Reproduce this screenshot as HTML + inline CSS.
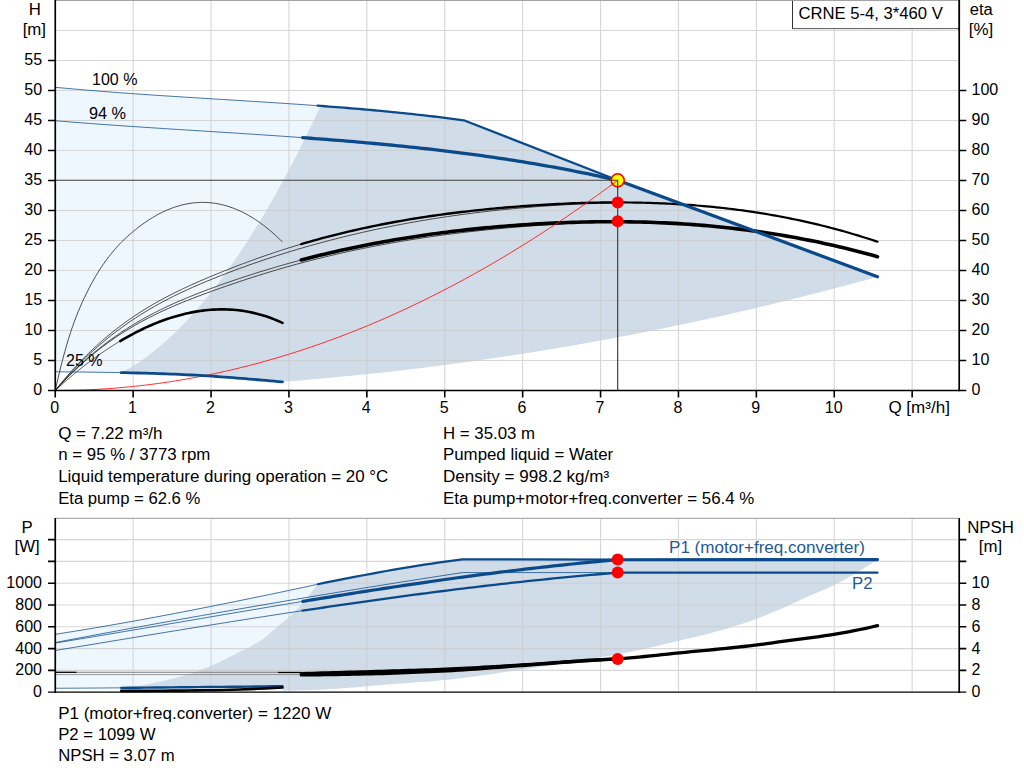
<!DOCTYPE html>
<html><head><meta charset="utf-8"><title>CRNE 5-4</title>
<style>html,body{margin:0;padding:0;background:#fff;}body{width:1024px;height:781px;overflow:hidden;position:relative;font-family:"Liberation Sans",sans-serif;}</style></head>
<body>
<svg width="1024" height="781" viewBox="0 0 1024 781" style="position:absolute;left:0;top:0">
<rect x="0" y="0" width="1024" height="781" fill="#fff"/>
<path d="M55.25 87.29 L60.67 87.80 L66.08 88.30 L71.50 88.79 L76.92 89.27 L82.33 89.73 L87.75 90.19 L93.17 90.64 L98.58 91.08 L104.00 91.51 L109.41 91.93 L114.83 92.34 L120.25 92.75 L125.66 93.14 L131.08 93.54 L136.50 93.92 L141.91 94.30 L147.33 94.67 L152.75 95.04 L158.16 95.40 L163.58 95.76 L169.00 96.11 L174.41 96.46 L179.83 96.81 L185.24 97.15 L190.66 97.49 L196.08 97.83 L201.49 98.17 L206.91 98.50 L212.33 98.84 L217.74 99.17 L223.16 99.51 L228.58 99.84 L233.99 100.17 L239.41 100.51 L244.83 100.85 L250.24 101.18 L255.66 101.53 L261.07 101.87 L266.49 102.22 L271.91 102.56 L277.32 102.92 L282.74 103.28 L288.16 103.64 L293.57 104.00 L298.99 104.38 L304.41 104.75 L309.82 105.14 L315.24 105.53 L320.66 105.93 L320.66 105.65 L317.28 112.86 L313.90 119.97 L310.52 127.00 L307.14 133.93 L303.75 140.77 L300.37 147.52 L296.99 154.17 L293.61 160.74 L290.23 167.21 L286.85 173.58 L283.47 179.87 L280.09 186.06 L276.71 192.16 L273.33 198.17 L269.95 204.08 L266.57 209.91 L263.19 215.64 L259.81 221.28 L256.43 226.82 L253.05 232.28 L249.67 237.64 L246.29 242.91 L242.91 248.08 L239.53 253.17 L236.15 258.16 L232.77 263.06 L229.39 267.87 L226.01 272.58 L222.63 277.20 L219.25 281.73 L215.87 286.17 L212.49 290.51 L209.11 294.77 L205.73 298.93 L202.35 302.99 L198.97 306.97 L195.59 310.85 L192.21 314.64 L188.83 318.34 L185.45 321.95 L182.07 325.46 L178.69 328.88 L175.31 332.21 L171.93 335.44 L168.55 338.59 L165.17 341.64 L161.79 344.60 L158.41 347.46 L155.03 350.24 L151.65 352.92 L148.27 355.51 L144.89 358.00 L141.51 360.41 L138.13 362.72 L134.75 364.94 L131.37 367.07 L127.99 369.10 L124.61 371.04 L121.23 372.89 L121.23 372.62 L113.90 372.49 L106.57 372.37 L99.24 372.26 L91.91 372.16 L84.58 372.08 L77.24 372.00 L69.91 371.92 L62.58 371.85 L55.25 371.78 Z" fill="#eef6fe"/>
<path d="M121.23 372.89 L124.61 371.04 L127.99 369.10 L131.37 367.07 L134.75 364.94 L138.13 362.72 L141.51 360.41 L144.89 358.00 L148.27 355.51 L151.65 352.92 L155.03 350.24 L158.41 347.46 L161.79 344.60 L165.17 341.64 L168.55 338.59 L171.93 335.44 L175.31 332.21 L178.69 328.88 L182.07 325.46 L185.45 321.95 L188.83 318.34 L192.21 314.64 L195.59 310.85 L198.97 306.97 L202.35 302.99 L205.73 298.93 L209.11 294.77 L212.49 290.51 L215.87 286.17 L219.25 281.73 L222.63 277.20 L226.01 272.58 L229.39 267.87 L232.77 263.06 L236.15 258.16 L239.53 253.17 L242.91 248.08 L246.29 242.91 L249.67 237.64 L253.05 232.28 L256.43 226.82 L259.81 221.28 L263.19 215.64 L266.57 209.91 L269.95 204.08 L273.33 198.17 L276.71 192.16 L280.09 186.06 L283.47 179.87 L286.85 173.58 L290.23 167.21 L293.61 160.74 L296.99 154.17 L300.37 147.52 L303.75 140.77 L307.14 133.93 L310.52 127.00 L313.90 119.97 L317.28 112.86 L320.66 105.65 L320.66 105.93 L325.59 106.29 L330.52 106.67 L335.46 107.05 L340.39 107.44 L345.33 107.83 L350.26 108.24 L355.20 108.65 L360.13 109.07 L365.07 109.50 L370.00 109.93 L374.94 110.38 L379.87 110.83 L384.80 111.30 L389.74 111.77 L394.67 112.25 L399.61 112.75 L404.54 113.26 L409.48 113.77 L414.41 114.30 L419.35 114.84 L424.28 115.39 L429.22 115.96 L434.15 116.53 L439.08 117.12 L444.02 117.73 L448.95 118.34 L453.89 118.97 L458.82 119.62 L463.76 120.28 L617.69 180.20 L877.48 276.74 L877.48 276.86 L869.95 278.94 L862.42 280.99 L854.89 283.02 L847.36 285.04 L839.83 287.03 L832.29 289.01 L824.76 290.97 L817.23 292.91 L809.70 294.83 L802.17 296.73 L794.64 298.61 L787.10 300.47 L779.57 302.32 L772.04 304.14 L764.51 305.95 L756.98 307.73 L749.45 309.50 L741.91 311.25 L734.38 312.98 L726.85 314.69 L719.32 316.38 L711.79 318.05 L704.26 319.70 L696.72 321.34 L689.19 322.95 L681.66 324.55 L674.13 326.12 L666.60 327.68 L659.07 329.22 L651.54 330.74 L644.00 332.24 L636.47 333.72 L628.94 335.18 L621.41 336.62 L613.88 338.05 L606.35 339.45 L598.81 340.84 L591.28 342.20 L583.75 343.55 L576.22 344.88 L568.69 346.19 L561.16 347.48 L553.62 348.75 L546.09 350.00 L538.56 351.24 L531.03 352.45 L523.50 353.65 L515.97 354.82 L508.43 355.98 L500.90 357.12 L493.37 358.24 L485.84 359.34 L478.31 360.42 L470.78 361.48 L463.24 362.52 L455.71 363.54 L448.18 364.55 L440.65 365.53 L433.12 366.50 L425.59 367.45 L418.05 368.38 L410.52 369.28 L402.99 370.17 L395.46 371.05 L387.93 371.90 L380.40 372.73 L372.86 373.54 L365.33 374.34 L357.80 375.11 L350.27 375.87 L342.74 376.61 L335.21 377.33 L327.67 378.03 L320.14 378.71 L312.61 379.37 L305.08 380.01 L297.55 380.63 L290.02 381.24 L282.48 381.82 L282.48 381.92 L276.92 381.43 L271.36 380.94 L265.80 380.45 L260.24 379.96 L254.68 379.49 L249.12 379.02 L243.56 378.56 L238.00 378.11 L232.44 377.67 L226.88 377.25 L221.32 376.84 L215.76 376.45 L210.20 376.08 L204.64 375.73 L199.08 375.40 L193.52 375.09 L187.96 374.80 L182.40 374.54 L176.84 374.29 L171.28 374.05 L165.71 373.84 L160.15 373.64 L154.59 373.46 L149.03 373.29 L143.47 373.13 L137.91 372.99 L132.35 372.85 L126.79 372.73 L121.23 372.62 Z" fill="#d0dce8"/>
<path d="M133.15 0.5V390 M211.05 0.5V390 M288.95 0.5V390 M366.85 0.5V390 M444.75 0.5V390 M522.65 0.5V390 M600.55 0.5V390 M678.45 0.5V390 M756.35 0.5V390 M834.25 0.5V390 M912.15 0.5V390 M56 360.50H958.3 M56 330.50H958.3 M56 300.50H958.3 M56 270.50H958.3 M56 240.50H958.3 M56 210.50H958.3 M56 180.50H958.3 M56 150.50H958.3 M56 120.50H958.3 M56 90.50H958.3 M56 60.50H958.3 M56 30.50H958.3" stroke="#cbcbcb" stroke-opacity="0.76" stroke-width="1.1" fill="none"/>
<path d="M56 0.4H958.3" stroke="#999" stroke-width="1"/>
<path d="M56 180.32H617.69" stroke="#444" stroke-width="1.1" fill="none"/>
<path d="M617.69 180.32V390" stroke="#333" stroke-width="1.1" fill="none"/>
<path d="M55.25 390.50 L57.32 387.90 L59.38 385.34 L61.45 382.82 L63.52 380.34 L65.59 377.91 L67.65 375.51 L69.72 373.14 L71.79 370.82 L73.86 368.53 L75.92 366.29 L77.99 364.07 L80.06 361.90 L82.12 359.76 L84.19 357.65 L86.26 355.58 L88.33 353.54 L90.39 351.54 L92.46 349.57 L94.53 347.63 L96.60 345.73 L98.66 343.86 L100.73 342.01 L102.80 340.20 L104.87 338.42 L106.93 336.67 L109.00 334.95 L111.07 333.26 L113.13 331.59 L115.20 329.96 L117.27 328.35 L119.34 326.77 L121.40 325.21 L123.47 323.69 L125.54 322.18 L127.61 320.70 L129.67 319.25 L131.74 317.82 L133.81 316.42 L135.87 315.03 L137.94 313.67 L140.01 312.34 L142.08 311.02 L144.14 309.73 L146.21 308.45 L148.28 307.20 L150.35 305.97 L152.41 304.75 L154.48 303.56 L156.55 302.38 L158.61 301.22 L160.68 300.08 L162.75 298.95 L164.82 297.85 L166.88 296.75 L168.95 295.68 L171.02 294.62 L173.09 293.57 L175.15 292.54 L177.22 291.52 L179.29 290.51 L181.36 289.52 L183.42 288.54 L185.49 287.57 L187.56 286.61 L189.62 285.66 L191.69 284.73 L193.76 283.80 L195.83 282.88 L197.89 281.97 L199.96 281.07 L202.03 280.18 L204.10 279.29 L206.16 278.41 L208.23 277.54 L210.30 276.67 L212.36 275.81 L214.43 274.96 L216.50 274.11 L218.57 273.26 L220.63 272.42 L222.70 271.59 L224.77 270.76 L226.84 269.94 L228.90 269.12 L230.97 268.31 L233.04 267.50 L235.10 266.70 L237.17 265.91 L239.24 265.12 L241.31 264.33 L243.37 263.55 L245.44 262.78 L247.51 262.01 L249.58 261.25 L251.64 260.50 L253.71 259.75 L255.78 259.00 L257.84 258.26 L259.91 257.53 L261.98 256.80 L264.05 256.08 L266.11 255.36 L268.18 254.65 L270.25 253.95 L272.32 253.25 L274.38 252.56 L276.45 251.87 L278.52 251.19 L280.59 250.52 L282.65 249.85 L284.72 249.19 L286.79 248.53 L288.85 247.88 L290.92 247.24 L292.99 246.60 L295.06 245.97 L297.12 245.34 L299.19 244.72 L301.26 244.10" stroke="#222" stroke-width="0.8" fill="none"/>
<path d="M55.25 390.50 L57.32 388.19 L59.38 385.91 L61.45 383.67 L63.52 381.46 L65.59 379.29 L67.65 377.15 L69.72 375.05 L71.79 372.98 L73.86 370.94 L75.92 368.94 L77.99 366.96 L80.06 365.02 L82.12 363.11 L84.19 361.23 L86.26 359.38 L88.33 357.56 L90.39 355.77 L92.46 354.01 L94.53 352.28 L96.60 350.58 L98.66 348.91 L100.73 347.26 L102.80 345.64 L104.87 344.04 L106.93 342.48 L109.00 340.94 L111.07 339.42 L113.13 337.93 L115.20 336.47 L117.27 335.02 L119.34 333.61 L121.40 332.21 L123.47 330.84 L125.54 329.50 L127.61 328.17 L129.67 326.87 L131.74 325.58 L133.81 324.32 L135.87 323.08 L137.94 321.86 L140.01 320.66 L142.08 319.48 L144.14 318.32 L146.21 317.17 L148.28 316.05 L150.35 314.94 L152.41 313.85 L154.48 312.78 L156.55 311.72 L158.61 310.68 L160.68 309.66 L162.75 308.65 L164.82 307.65 L166.88 306.67 L168.95 305.71 L171.02 304.76 L173.09 303.82 L175.15 302.89 L177.22 301.98 L179.29 301.08 L181.36 300.19 L183.42 299.31 L185.49 298.44 L187.56 297.59 L189.62 296.74 L191.69 295.90 L193.76 295.08 L195.83 294.26 L197.89 293.45 L199.96 292.64 L202.03 291.85 L204.10 291.06 L206.16 290.28 L208.23 289.50 L210.30 288.74 L212.36 287.97 L214.43 287.21 L216.50 286.46 L218.57 285.72 L220.63 284.97 L222.70 284.24 L224.77 283.51 L226.84 282.78 L228.90 282.06 L230.97 281.34 L233.04 280.63 L235.10 279.93 L237.17 279.23 L239.24 278.53 L241.31 277.85 L243.37 277.16 L245.44 276.48 L247.51 275.81 L249.58 275.14 L251.64 274.48 L253.71 273.82 L255.78 273.16 L257.84 272.51 L259.91 271.87 L261.98 271.23 L264.05 270.60 L266.11 269.97 L268.18 269.34 L270.25 268.73 L272.32 268.11 L274.38 267.50 L276.45 266.90 L278.52 266.30 L280.59 265.70 L282.65 265.11 L284.72 264.53 L286.79 263.95 L288.85 263.37 L290.92 262.80 L292.99 262.23 L295.06 261.67 L297.12 261.11 L299.19 260.56 L301.26 260.01" stroke="#222" stroke-width="0.8" fill="none"/>
<path d="M55.25 390.50 L59.98 384.91 L64.70 379.50 L69.43 374.29 L74.16 369.25 L78.88 364.38 L83.61 359.69 L88.33 355.16 L93.06 350.80 L97.79 346.58 L102.51 342.52 L107.24 338.61 L111.97 334.83 L116.69 331.19 L121.42 327.69 L126.15 324.30 L130.87 321.04 L135.60 317.90 L140.32 314.87 L145.05 311.94 L149.78 309.12 L154.50 306.39 L159.23 303.75 L163.96 301.21 L168.68 298.74 L173.41 296.35 L178.14 294.04 L182.86 291.79 L187.59 289.60 L192.31 287.48 L197.04 285.40 L201.77 283.37 L206.49 281.39 L211.22 279.45 L215.95 277.54 L220.67 275.66 L225.40 273.81 L230.13 272.00 L234.85 270.22 L239.58 268.47 L244.30 266.75 L249.03 265.06 L253.76 263.40 L258.48 261.77 L263.21 260.16 L267.94 258.59 L272.66 257.04 L277.39 255.52 L282.12 254.03 L286.84 252.56 L291.57 251.12 L296.29 249.70 L301.02 248.31 L305.75 246.94 L310.47 245.60 L315.20 244.28 L319.93 242.99 L324.65 241.72 L329.38 240.47 L334.11 239.25 L338.83 238.05 L343.56 236.87 L348.28 235.72 L353.01 234.59 L357.74 233.48 L362.46 232.40 L367.19 231.34 L371.92 230.30 L376.64 229.28 L381.37 228.29 L386.10 227.32 L390.82 226.36 L395.55 225.43 L400.27 224.53 L405.00 223.64 L409.73 222.77 L414.45 221.93 L419.18 221.10 L423.91 220.30 L428.63 219.51 L433.36 218.75 L438.09 218.00 L442.81 217.28 L447.54 216.57 L452.27 215.88 L456.99 215.22 L461.72 214.57 L466.44 213.94 L471.17 213.33 L475.90 212.74 L480.62 212.16 L485.35 211.61 L490.08 211.07 L494.80 210.55 L499.53 210.05 L504.26 209.56 L508.98 209.10 L513.71 208.65 L518.43 208.21 L523.16 207.80 L527.89 207.39 L532.61 207.01 L537.34 206.64 L542.07 206.29 L546.79 205.96 L551.52 205.64 L556.25 205.33 L560.97 205.04 L565.70 204.77 L570.42 204.51 L575.15 204.26 L579.88 204.03 L584.60 203.82 L589.33 203.62 L594.06 203.43 L598.78 203.26 L603.51 203.10 L608.24 202.95 L612.96 202.82 L617.69 202.70" stroke="#222" stroke-width="0.8" fill="none"/>
<path d="M55.25 390.50 L59.98 385.34 L64.70 380.37 L69.43 375.58 L74.16 370.97 L78.88 366.54 L83.61 362.27 L88.33 358.17 L93.06 354.22 L97.79 350.43 L102.51 346.79 L107.24 343.28 L111.97 339.92 L116.69 336.68 L121.42 333.57 L126.15 330.59 L130.87 327.71 L135.60 324.95 L140.32 322.30 L145.05 319.74 L149.78 317.27 L154.50 314.90 L159.23 312.61 L163.96 310.40 L168.68 308.26 L173.41 306.19 L178.14 304.18 L182.86 302.23 L187.59 300.33 L192.31 298.48 L197.04 296.67 L201.77 294.89 L206.49 293.15 L211.22 291.43 L215.95 289.74 L220.67 288.06 L225.40 286.40 L230.13 284.77 L234.85 283.16 L239.58 281.57 L244.30 280.00 L249.03 278.45 L253.76 276.93 L258.48 275.43 L263.21 273.96 L267.94 272.50 L272.66 271.08 L277.39 269.67 L282.12 268.29 L286.84 266.94 L291.57 265.61 L296.29 264.31 L301.02 263.03 L305.75 261.77 L310.47 260.54 L315.20 259.34 L319.93 258.16 L324.65 257.00 L329.38 255.87 L334.11 254.76 L338.83 253.67 L343.56 252.60 L348.28 251.56 L353.01 250.54 L357.74 249.54 L362.46 248.57 L367.19 247.61 L371.92 246.68 L376.64 245.77 L381.37 244.88 L386.10 244.01 L390.82 243.16 L395.55 242.32 L400.27 241.51 L405.00 240.72 L409.73 239.95 L414.45 239.20 L419.18 238.46 L423.91 237.75 L428.63 237.05 L433.36 236.37 L438.09 235.71 L442.81 235.07 L447.54 234.44 L452.27 233.83 L456.99 233.24 L461.72 232.66 L466.44 232.10 L471.17 231.56 L475.90 231.03 L480.62 230.52 L485.35 230.02 L490.08 229.54 L494.80 229.07 L499.53 228.62 L504.26 228.18 L508.98 227.76 L513.71 227.34 L518.43 226.95 L523.16 226.56 L527.89 226.19 L532.61 225.84 L537.34 225.49 L542.07 225.16 L546.79 224.84 L551.52 224.53 L556.25 224.23 L560.97 223.94 L565.70 223.67 L570.42 223.40 L575.15 223.15 L579.88 222.91 L584.60 222.67 L589.33 222.45 L594.06 222.24 L598.78 222.03 L603.51 221.84 L608.24 221.65 L612.96 221.47 L617.69 221.30" stroke="#222" stroke-width="0.8" fill="none"/>
<path d="M55.25 390.50 L57.16 382.03 L59.07 373.91 L60.98 366.13 L62.89 358.71 L64.80 351.63 L66.71 344.91 L68.62 338.54 L70.53 332.53 L72.44 326.88 L74.35 321.55 L76.25 316.52 L78.16 311.75 L80.07 307.22 L81.98 302.89 L83.89 298.73 L85.80 294.72 L87.71 290.85 L89.62 287.13 L91.53 283.54 L93.44 280.09 L95.35 276.77 L97.26 273.58 L99.17 270.50 L101.08 267.55 L102.99 264.71 L104.90 261.97 L106.81 259.34 L108.72 256.82 L110.63 254.38 L112.54 252.04 L114.45 249.79 L116.36 247.62 L118.26 245.54 L120.17 243.52 L122.08 241.58 L123.99 239.71 L125.90 237.90 L127.81 236.14 L129.72 234.45 L131.63 232.80 L133.54 231.19 L135.45 229.64 L137.36 228.12 L139.27 226.65 L141.18 225.22 L143.09 223.83 L145.00 222.48 L146.91 221.18 L148.82 219.92 L150.73 218.71 L152.64 217.53 L154.55 216.41 L156.46 215.32 L158.36 214.28 L160.27 213.28 L162.18 212.32 L164.09 211.41 L166.00 210.54 L167.91 209.72 L169.82 208.94 L171.73 208.20 L173.64 207.51 L175.55 206.86 L177.46 206.25 L179.37 205.69 L181.28 205.17 L183.19 204.69 L185.10 204.26 L187.01 203.88 L188.92 203.54 L190.83 203.24 L192.74 202.99 L194.65 202.78 L196.56 202.61 L198.46 202.49 L200.37 202.42 L202.28 202.39 L204.19 202.40 L206.10 202.46 L208.01 202.56 L209.92 202.71 L211.83 202.90 L213.74 203.14 L215.65 203.42 L217.56 203.75 L219.47 204.12 L221.38 204.54 L223.29 205.00 L225.20 205.51 L227.11 206.06 L229.02 206.66 L230.93 207.30 L232.84 207.99 L234.75 208.73 L236.66 209.51 L238.57 210.33 L240.47 211.20 L242.38 212.12 L244.29 213.08 L246.20 214.09 L248.11 215.15 L250.02 216.24 L251.93 217.39 L253.84 218.58 L255.75 219.82 L257.66 221.10 L259.57 222.43 L261.48 223.81 L263.39 225.23 L265.30 226.70 L267.21 228.22 L269.12 229.78 L271.03 231.39 L272.94 233.04 L274.85 234.74 L276.76 236.49 L278.67 238.28 L280.57 240.12 L282.48 242.01" stroke="#222" stroke-width="0.8" fill="none"/>
<path d="M55.25 390.50 L55.80 389.99 L56.34 389.49 L56.89 388.99 L57.44 388.49 L57.98 387.99 L58.53 387.49 L59.08 387.00 L59.62 386.50 L60.17 386.01 L60.72 385.52 L61.26 385.03 L61.81 384.54 L62.36 384.05 L62.90 383.57 L63.45 383.08 L64.00 382.60 L64.54 382.12 L65.09 381.64 L65.64 381.16 L66.18 380.69 L66.73 380.21 L67.28 379.74 L67.82 379.27 L68.37 378.80 L68.92 378.33 L69.46 377.86 L70.01 377.39 L70.56 376.93 L71.10 376.47 L71.65 376.01 L72.19 375.55 L72.74 375.09 L73.29 374.63 L73.83 374.18 L74.38 373.72 L74.93 373.27 L75.47 372.82 L76.02 372.37 L76.57 371.92 L77.11 371.48 L77.66 371.03 L78.21 370.59 L78.75 370.15 L79.30 369.71 L79.85 369.27 L80.39 368.83 L80.94 368.40 L81.49 367.97 L82.03 367.53 L82.58 367.10 L83.13 366.67 L83.67 366.25 L84.22 365.82 L84.77 365.39 L85.31 364.97 L85.86 364.55 L86.41 364.13 L86.95 363.71 L87.50 363.29 L88.05 362.88 L88.59 362.46 L89.14 362.05 L89.69 361.64 L90.23 361.23 L90.78 360.82 L91.33 360.41 L91.87 360.01 L92.42 359.61 L92.97 359.20 L93.51 358.80 L94.06 358.40 L94.61 358.01 L95.15 357.61 L95.70 357.22 L96.25 356.82 L96.79 356.43 L97.34 356.04 L97.89 355.65 L98.43 355.27 L98.98 354.88 L99.53 354.50 L100.07 354.11 L100.62 353.73 L101.17 353.35 L101.71 352.98 L102.26 352.60 L102.81 352.22 L103.35 351.85 L103.90 351.48 L104.44 351.11 L104.99 350.74 L105.54 350.37 L106.08 350.01 L106.63 349.64 L107.18 349.28 L107.72 348.92 L108.27 348.56 L108.82 348.20 L109.36 347.85 L109.91 347.49 L110.46 347.14 L111.00 346.79 L111.55 346.43 L112.10 346.09 L112.64 345.74 L113.19 345.39 L113.74 345.05 L114.28 344.71 L114.83 344.36 L115.38 344.03 L115.92 343.69 L116.47 343.35 L117.02 343.02 L117.56 342.68 L118.11 342.35 L118.66 342.02 L119.20 341.69 L119.75 341.36 L120.30 341.04" stroke="#222" stroke-width="0.8" fill="none"/>
<path d="M301.26 244.10 L305.26 242.93 L309.27 241.78 L313.27 240.65 L317.28 239.54 L321.29 238.45 L325.29 237.38 L329.30 236.34 L333.30 235.31 L337.31 234.31 L341.31 233.32 L345.32 232.36 L349.32 231.41 L353.33 230.48 L357.33 229.58 L361.34 228.69 L365.35 227.82 L369.35 226.97 L373.36 226.14 L377.36 225.32 L381.37 224.53 L385.37 223.75 L389.38 222.99 L393.38 222.24 L397.39 221.52 L401.39 220.81 L405.40 220.11 L409.41 219.44 L413.41 218.78 L417.42 218.13 L421.42 217.50 L425.43 216.89 L429.43 216.29 L433.44 215.71 L437.44 215.14 L441.45 214.59 L445.45 214.05 L449.46 213.53 L453.46 213.02 L457.47 212.52 L461.48 212.04 L465.48 211.57 L469.49 211.11 L473.49 210.67 L477.50 210.24 L481.50 209.82 L485.51 209.42 L489.51 209.02 L493.52 208.64 L497.52 208.27 L501.53 207.92 L505.54 207.57 L509.54 207.23 L513.55 206.91 L517.55 206.59 L521.56 206.29 L525.56 205.99 L529.57 205.71 L533.57 205.44 L537.58 205.17 L541.58 204.92 L545.59 204.68 L549.60 204.45 L553.60 204.23 L557.61 204.03 L561.61 203.83 L565.62 203.65 L569.62 203.48 L573.63 203.32 L577.63 203.17 L581.64 203.04 L585.64 202.92 L589.65 202.81 L593.66 202.72 L597.66 202.64 L601.67 202.57 L605.67 202.52 L609.68 202.48 L613.68 202.46 L617.69 202.45" stroke="#000" stroke-width="2.4" fill="none" stroke-linecap="round"/>
<path d="M617.69 202.45 L620.98 202.45 L624.27 202.46 L627.55 202.48 L630.84 202.52 L634.13 202.56 L637.42 202.61 L640.71 202.68 L644.00 202.75 L647.29 202.84 L650.57 202.93 L653.86 203.04 L657.15 203.16 L660.44 203.29 L663.73 203.43 L667.02 203.58 L670.31 203.74 L673.59 203.92 L676.88 204.11 L680.17 204.30 L683.46 204.51 L686.75 204.74 L690.04 204.97 L693.32 205.22 L696.61 205.48 L699.90 205.75 L703.19 206.03 L706.48 206.33 L709.77 206.64 L713.06 206.96 L716.34 207.29 L719.63 207.64 L722.92 208.00 L726.21 208.38 L729.50 208.76 L732.79 209.16 L736.08 209.58 L739.36 210.01 L742.65 210.45 L745.94 210.91 L749.23 211.37 L752.52 211.86 L755.81 212.36 L759.10 212.87 L762.38 213.40 L765.67 213.94 L768.96 214.49 L772.25 215.06 L775.54 215.65 L778.83 216.25 L782.12 216.87 L785.40 217.50 L788.69 218.14 L791.98 218.80 L795.27 219.48 L798.56 220.17 L801.85 220.88 L805.14 221.61 L808.42 222.34 L811.71 223.10 L815.00 223.87 L818.29 224.66 L821.58 225.46 L824.87 226.29 L828.16 227.12 L831.44 227.98 L834.73 228.85 L838.02 229.73 L841.31 230.64 L844.60 231.56 L847.89 232.50 L851.18 233.46 L854.46 234.43 L857.75 235.42 L861.04 236.43 L864.33 237.45 L867.62 238.50 L870.91 239.56 L874.20 240.64 L877.48 241.74" stroke="#000" stroke-width="2.2" fill="none" stroke-linecap="round"/>
<path d="M301.26 260.01 L306.10 258.75 L310.94 257.51 L315.78 256.29 L320.63 255.10 L325.47 253.94 L330.31 252.80 L335.15 251.68 L340.00 250.59 L344.84 249.52 L349.68 248.47 L354.52 247.45 L359.37 246.45 L364.21 245.47 L369.05 244.52 L373.89 243.58 L378.73 242.68 L383.58 241.79 L388.42 240.92 L393.26 240.08 L398.10 239.26 L402.95 238.46 L407.79 237.68 L412.63 236.92 L417.47 236.18 L422.31 235.46 L427.16 234.77 L432.00 234.09 L436.84 233.43 L441.68 232.79 L446.53 232.18 L451.37 231.58 L456.21 231.00 L461.05 230.44 L465.89 229.89 L470.74 229.37 L475.58 228.86 L480.42 228.38 L485.26 227.91 L490.11 227.46 L494.95 227.02 L499.79 226.60 L504.63 226.20 L509.47 225.82 L514.32 225.45 L519.16 225.10 L524.00 224.77 L528.84 224.45 L533.69 224.15 L538.53 223.86 L543.37 223.60 L548.21 223.34 L553.05 223.11 L557.90 222.89 L562.74 222.69 L567.58 222.51 L572.42 222.35 L577.27 222.20 L582.11 222.07 L586.95 221.97 L591.79 221.88 L596.63 221.80 L601.48 221.75 L606.32 221.72 L611.16 221.71 L616.00 221.71 L620.85 221.74 L625.69 221.78 L630.53 221.85 L635.37 221.94 L640.21 222.05 L645.06 222.17 L649.90 222.32 L654.74 222.49 L659.58 222.69 L664.43 222.90 L669.27 223.14 L674.11 223.39 L678.95 223.67 L683.79 223.98 L688.64 224.30 L693.48 224.65 L698.32 225.02 L703.16 225.41 L708.01 225.83 L712.85 226.27 L717.69 226.74 L722.53 227.23 L727.38 227.74 L732.22 228.28 L737.06 228.84 L741.90 229.43 L746.74 230.04 L751.59 230.67 L756.43 231.34 L761.27 232.03 L766.11 232.74 L770.96 233.48 L775.80 234.24 L780.64 235.04 L785.48 235.86 L790.32 236.70 L795.17 237.57 L800.01 238.47 L804.85 239.40 L809.69 240.36 L814.54 241.34 L819.38 242.35 L824.22 243.39 L829.06 244.45 L833.90 245.55 L838.75 246.67 L843.59 247.83 L848.43 249.01 L853.27 250.22 L858.12 251.46 L862.96 252.73 L867.80 254.03 L872.64 255.36 L877.48 256.72" stroke="#000" stroke-width="3.6" fill="none" stroke-linecap="round"/>
<path d="M120.30 341.04 L123.05 339.42 L125.79 337.85 L128.54 336.31 L131.29 334.81 L134.04 333.36 L136.79 331.94 L139.54 330.56 L142.29 329.23 L145.04 327.93 L147.79 326.68 L150.53 325.46 L153.28 324.29 L156.03 323.16 L158.78 322.07 L161.53 321.03 L164.28 320.02 L167.03 319.06 L169.78 318.14 L172.53 317.27 L175.28 316.44 L178.02 315.65 L180.77 314.91 L183.52 314.21 L186.27 313.55 L189.02 312.95 L191.77 312.39 L194.52 311.87 L197.27 311.40 L200.02 310.98 L202.76 310.61 L205.51 310.28 L208.26 310.01 L211.01 309.78 L213.76 309.60 L216.51 309.47 L219.26 309.40 L222.01 309.37 L224.76 309.40 L227.51 309.47 L230.25 309.60 L233.00 309.79 L235.75 310.03 L238.50 310.32 L241.25 310.66 L244.00 311.07 L246.75 311.52 L249.50 312.04 L252.25 312.61 L254.99 313.24 L257.74 313.93 L260.49 314.68 L263.24 315.49 L265.99 316.36 L268.74 317.29 L271.49 318.29 L274.24 319.34 L276.99 320.46 L279.74 321.65 L282.48 322.90" stroke="#000" stroke-width="2.6" fill="none" stroke-linecap="round"/>
<path d="M55.25 390.50 L60.93 390.48 L66.61 390.41 L72.29 390.31 L77.97 390.16 L83.66 389.96 L89.34 389.73 L95.02 389.45 L100.70 389.13 L106.38 388.76 L112.06 388.36 L117.74 387.91 L123.42 387.41 L129.11 386.88 L134.79 386.30 L140.47 385.67 L146.15 385.01 L151.83 384.30 L157.51 383.55 L163.19 382.76 L168.87 381.92 L174.56 381.04 L180.24 380.12 L185.92 379.16 L191.60 378.15 L197.28 377.10 L202.96 376.00 L208.64 374.87 L214.32 373.69 L220.00 372.46 L225.69 371.20 L231.37 369.89 L237.05 368.54 L242.73 367.15 L248.41 365.71 L254.09 364.23 L259.77 362.71 L265.45 361.14 L271.14 359.53 L276.82 357.88 L282.50 356.19 L288.18 354.45 L293.86 352.67 L299.54 350.85 L305.22 348.98 L310.90 347.07 L316.58 345.12 L322.27 343.13 L327.95 341.09 L333.63 339.01 L339.31 336.89 L344.99 334.72 L350.67 332.51 L356.35 330.26 L362.03 327.97 L367.72 325.63 L373.40 323.25 L379.08 320.83 L384.76 318.36 L390.44 315.85 L396.12 313.30 L401.80 310.70 L407.48 308.07 L413.17 305.39 L418.85 302.66 L424.53 299.90 L430.21 297.09 L435.89 294.23 L441.57 291.34 L447.25 288.40 L452.93 285.42 L458.61 282.40 L464.30 279.33 L469.98 276.22 L475.66 273.07 L481.34 269.87 L487.02 266.64 L492.70 263.35 L498.38 260.03 L504.06 256.66 L509.75 253.25 L515.43 249.80 L521.11 246.31 L526.79 242.77 L532.47 239.19 L538.15 235.56 L543.83 231.89 L549.51 228.18 L555.19 224.43 L560.88 220.64 L566.56 216.80 L572.24 212.92 L577.92 208.99 L583.60 205.02 L589.28 201.01 L594.96 196.96 L600.64 192.87 L606.33 188.73 L612.01 184.54 L617.69 180.32" stroke="#ff1a1a" stroke-width="0.9" fill="none"/>
<path d="M55.25 87.29 L59.67 87.71 L64.10 88.12 L68.52 88.52 L72.94 88.92 L77.37 89.31 L81.79 89.69 L86.21 90.06 L90.64 90.43 L95.06 90.79 L99.48 91.15 L103.90 91.50 L108.33 91.84 L112.75 92.18 L117.17 92.52 L121.60 92.85 L126.02 93.17 L130.44 93.49 L134.87 93.80 L139.29 94.12 L143.71 94.42 L148.14 94.73 L152.56 95.03 L156.98 95.32 L161.41 95.61 L165.83 95.91 L170.25 96.19 L174.67 96.48 L179.10 96.76 L183.52 97.04 L187.94 97.32 L192.37 97.60 L196.79 97.88 L201.21 98.15 L205.64 98.42 L210.06 98.70 L214.48 98.97 L218.91 99.24 L223.33 99.52 L227.75 99.79 L232.18 100.06 L236.60 100.34 L241.02 100.61 L245.44 100.88 L249.87 101.16 L254.29 101.44 L258.71 101.72 L263.14 102.00 L267.56 102.28 L271.98 102.57 L276.41 102.86 L280.83 103.15 L285.25 103.44 L289.68 103.74 L294.10 104.04 L298.52 104.34 L302.95 104.65 L307.37 104.96 L311.79 105.28 L316.22 105.60" stroke="#0a4a8a" stroke-width="0.9" stroke-opacity="0.85" fill="none"/>
<path d="M55.25 120.73 L59.42 121.08 L63.59 121.42 L67.76 121.76 L71.93 122.09 L76.10 122.42 L80.27 122.74 L84.44 123.06 L88.61 123.38 L92.78 123.69 L96.95 124.00 L101.12 124.30 L105.29 124.61 L109.46 124.90 L113.62 125.20 L117.79 125.49 L121.96 125.78 L126.13 126.07 L130.30 126.35 L134.47 126.63 L138.64 126.91 L142.81 127.19 L146.98 127.47 L151.15 127.74 L155.32 128.01 L159.49 128.28 L163.66 128.55 L167.83 128.82 L172.00 129.09 L176.17 129.35 L180.34 129.62 L184.51 129.88 L188.68 130.14 L192.85 130.41 L197.02 130.67 L201.19 130.93 L205.36 131.19 L209.53 131.46 L213.70 131.72 L217.87 131.98 L222.04 132.25 L226.20 132.51 L230.37 132.78 L234.54 133.04 L238.71 133.31 L242.88 133.58 L247.05 133.85 L251.22 134.12 L255.39 134.39 L259.56 134.67 L263.73 134.95 L267.90 135.23 L272.07 135.51 L276.24 135.79 L280.41 136.08 L284.58 136.37 L288.75 136.66 L292.92 136.95 L297.09 137.25 L301.26 137.55" stroke="#0a4a8a" stroke-width="0.9" stroke-opacity="0.85" fill="none"/>
<path d="M55.25 371.78 L58.72 371.81 L62.20 371.85 L65.67 371.88 L69.14 371.91 L72.61 371.95 L76.09 371.98 L79.56 372.02 L83.03 372.06 L86.50 372.10 L89.98 372.14 L93.45 372.18 L96.92 372.23 L100.40 372.28 L103.87 372.33 L107.34 372.38 L110.81 372.43 L114.29 372.49 L117.76 372.55 L121.23 372.62" stroke="#0a4a8a" stroke-width="0.9" stroke-opacity="0.85" fill="none"/>
<path d="M317.46 105.69 L321.21 105.97 L324.96 106.25 L328.71 106.53 L332.47 106.82 L336.22 107.11 L339.97 107.41 L343.72 107.71 L347.47 108.01 L351.22 108.32 L354.97 108.63 L358.72 108.95 L362.48 109.27 L366.23 109.60 L369.98 109.93 L373.73 110.27 L377.48 110.61 L381.23 110.96 L384.98 111.31 L388.73 111.67 L392.49 112.04 L396.24 112.41 L399.99 112.79 L403.74 113.17 L407.49 113.56 L411.24 113.96 L414.99 114.36 L418.74 114.77 L422.49 115.19 L426.25 115.62 L430.00 116.05 L433.75 116.49 L437.50 116.93 L441.25 117.39 L445.00 117.85 L448.75 118.32 L452.50 118.80 L456.26 119.28 L460.01 119.78 L463.76 120.28 L617.69 180.20" stroke="#0a4a8a" stroke-width="2.3" fill="none" stroke-linecap="round" stroke-linejoin="round"/>
<path d="M302.66 137.65 L306.65 137.94 L310.64 138.24 L314.62 138.54 L318.61 138.84 L322.60 139.15 L326.59 139.45 L330.57 139.77 L334.56 140.09 L338.55 140.41 L342.54 140.73 L346.53 141.06 L350.51 141.40 L354.50 141.73 L358.49 142.08 L362.48 142.43 L366.46 142.78 L370.45 143.14 L374.44 143.50 L378.43 143.87 L382.41 144.24 L386.40 144.62 L390.39 145.01 L394.38 145.40 L398.36 145.80 L402.35 146.20 L406.34 146.61 L410.33 147.03 L414.32 147.45 L418.30 147.88 L422.29 148.31 L426.28 148.76 L430.27 149.20 L434.25 149.66 L438.24 150.12 L442.23 150.59 L446.22 151.07 L450.20 151.56 L454.19 152.05 L458.18 152.55 L462.17 153.06 L466.16 153.58 L470.14 154.10 L474.13 154.63 L478.12 155.18 L482.11 155.73 L486.09 156.28 L490.08 156.85 L494.07 157.43 L498.06 158.01 L502.04 158.61 L506.03 159.21 L510.02 159.82 L514.01 160.45 L518.00 161.08 L521.98 161.72 L525.97 162.37 L529.96 163.03 L533.95 163.71 L537.93 164.39 L541.92 165.08 L545.91 165.78 L549.90 166.50 L553.88 167.22 L557.87 167.95 L561.86 168.70 L565.85 169.46 L569.84 170.22 L573.82 171.00 L577.81 171.79 L581.80 172.60 L585.79 173.41 L589.77 174.24 L593.76 175.07 L597.75 175.92 L601.74 176.79 L605.72 177.66 L609.71 178.55 L613.70 179.45 L617.69 180.36" stroke="#0a4a8a" stroke-width="3.3" fill="none" stroke-linecap="round"/>
<path d="M617.69 180.20 L877.48 276.74" stroke="#0a4a8a" stroke-width="3.25" fill="none" stroke-linecap="round"/>
<path d="M121.23 372.62 L125.37 372.70 L129.50 372.79 L133.64 372.88 L137.77 372.98 L141.90 373.09 L146.04 373.20 L150.17 373.32 L154.31 373.45 L158.44 373.58 L162.58 373.73 L166.71 373.88 L170.85 374.04 L174.98 374.21 L179.12 374.39 L183.25 374.58 L187.39 374.78 L191.52 374.99 L195.66 375.21 L199.79 375.44 L203.93 375.69 L208.06 375.94 L212.19 376.21 L216.33 376.49 L220.46 376.78 L224.60 377.08 L228.73 377.39 L232.87 377.70 L237.00 378.03 L241.14 378.36 L245.27 378.70 L249.41 379.04 L253.54 379.39 L257.68 379.74 L261.81 380.10 L265.95 380.46 L270.08 380.82 L274.21 381.19 L278.35 381.55 L282.48 381.92" stroke="#0a4a8a" stroke-width="2.8" fill="none" stroke-linecap="round"/>
<circle cx="617.69" cy="180.32" r="6.5" fill="#ffff00" stroke="#ff0000" stroke-width="1.6"/>
<path d="M610.69 180.32H617.69V188.32" stroke="#333" stroke-width="1.1" fill="none"/>
<path d="M610.69 185.62L617.69 180.32" stroke="#ff1a1a" stroke-width="0.9" fill="none"/>
<circle cx="617.69" cy="202.60" r="6" fill="#ff0000"/>
<circle cx="617.69" cy="221.30" r="6" fill="#ff0000"/>
<path d="M55.25 0V391.3" stroke="#000" stroke-width="1.7" fill="none"/>
<path d="M959.20 0V391.3" stroke="#000" stroke-width="1.7" fill="none"/>
<path d="M48 390.5H966.3" stroke="#000" stroke-width="1.45" fill="none"/>
<path d="M48 360.50H55 M48 330.50H55 M48 300.50H55 M48 270.50H55 M48 240.50H55 M48 210.50H55 M48 180.50H55 M48 150.50H55 M48 120.50H55 M48 90.50H55 M48 60.50H55 M959.5 360.50H966.3 M959.5 330.50H966.3 M959.5 300.50H966.3 M959.5 270.50H966.3 M959.5 240.50H966.3 M959.5 210.50H966.3 M959.5 180.50H966.3 M959.5 150.50H966.3 M959.5 120.50H966.3 M959.5 90.50H966.3 M55.25 390.5V397.6 M133.15 390.5V397.6 M211.05 390.5V397.6 M288.95 390.5V397.6 M366.85 390.5V397.6 M444.75 390.5V397.6 M522.65 390.5V397.6 M600.55 390.5V397.6 M678.45 390.5V397.6 M756.35 390.5V397.6 M834.25 390.5V397.6 M912.15 390.5V397.6" stroke="#000" stroke-width="1.6" fill="none"/>
<path d="M55.25 634.29 L62.04 633.23 L68.83 632.15 L75.62 631.06 L82.42 629.95 L89.21 628.83 L96.00 627.69 L102.79 626.53 L109.58 625.36 L116.37 624.18 L123.16 622.98 L129.95 621.77 L136.75 620.54 L143.54 619.31 L150.33 618.06 L157.12 616.79 L163.91 615.52 L170.70 614.23 L177.49 612.94 L184.28 611.63 L191.08 610.31 L197.87 608.99 L204.66 607.65 L211.45 606.30 L218.24 604.95 L225.03 603.59 L231.82 602.22 L238.61 600.84 L245.41 599.45 L252.20 598.06 L258.99 596.66 L265.78 595.25 L272.57 593.84 L279.36 592.43 L286.15 591.01 L292.94 589.58 L299.74 588.15 L306.53 586.72 L313.32 585.16 L320.11 583.74 L320.11 583.55 L316.74 585.83 L313.37 589.78 L310.00 594.15 L306.63 598.34 L303.26 602.48 L299.89 606.13 L296.51 609.40 L293.14 612.83 L289.77 616.23 L286.40 619.29 L283.03 622.10 L279.66 624.82 L276.29 627.62 L272.92 630.60 L269.55 633.59 L266.18 636.41 L262.81 638.90 L259.44 641.18 L256.06 643.32 L252.69 645.33 L249.32 647.21 L245.95 648.97 L242.58 650.53 L239.21 652.11 L235.84 653.80 L232.47 655.54 L229.10 657.28 L225.73 658.96 L222.36 660.57 L218.99 662.14 L215.61 663.67 L212.24 665.16 L208.87 666.63 L205.50 668.11 L202.13 669.56 L198.76 670.94 L195.39 672.19 L192.02 673.29 L188.65 674.31 L185.28 675.27 L181.91 676.18 L178.54 677.06 L175.16 677.92 L171.79 678.77 L168.42 679.60 L165.05 680.42 L161.68 681.20 L158.31 681.97 L154.94 682.70 L151.57 683.40 L148.20 684.08 L144.83 684.73 L141.46 685.37 L138.09 685.98 L134.71 686.58 L131.34 687.15 L127.97 687.70 L124.60 688.23 L121.23 688.72 L121.23 687.85 L113.90 687.91 L106.57 687.96 L99.24 688.02 L91.91 688.07 L84.58 688.12 L77.24 688.16 L69.91 688.21 L62.58 688.25 L55.25 688.29 Z" fill="#eef6fe"/>
<path d="M121.23 688.72 L124.60 688.23 L127.97 687.70 L131.34 687.15 L134.71 686.58 L138.09 685.98 L141.46 685.37 L144.83 684.73 L148.20 684.08 L151.57 683.40 L154.94 682.70 L158.31 681.97 L161.68 681.20 L165.05 680.42 L168.42 679.60 L171.79 678.77 L175.16 677.92 L178.54 677.06 L181.91 676.18 L185.28 675.27 L188.65 674.31 L192.02 673.29 L195.39 672.19 L198.76 670.94 L202.13 669.56 L205.50 668.11 L208.87 666.63 L212.24 665.16 L215.61 663.67 L218.99 662.14 L222.36 660.57 L225.73 658.96 L229.10 657.28 L232.47 655.54 L235.84 653.80 L239.21 652.11 L242.58 650.53 L245.95 648.97 L249.32 647.21 L252.69 645.33 L256.06 643.32 L259.44 641.18 L262.81 638.90 L266.18 636.41 L269.55 633.59 L272.92 630.60 L276.29 627.62 L279.66 624.82 L283.03 622.10 L286.40 619.29 L289.77 616.23 L293.14 612.83 L296.51 609.40 L299.89 606.13 L303.26 602.48 L306.63 598.34 L310.00 594.15 L313.37 589.78 L316.74 585.83 L320.11 583.55 L320.11 583.74 L327.60 582.23 L335.10 580.73 L342.59 579.25 L350.09 577.79 L357.58 576.34 L365.08 574.92 L372.57 573.52 L380.07 572.15 L387.56 570.81 L395.06 569.49 L402.55 568.21 L410.05 566.97 L417.54 565.76 L425.04 564.59 L432.53 563.47 L440.03 562.39 L447.52 561.35 L455.02 560.36 L462.51 559.43 L877.48 559.54 L877.48 559.54 L871.47 563.52 L865.46 567.36 L859.45 571.03 L853.44 574.56 L847.43 577.99 L841.42 581.28 L835.41 584.39 L829.40 587.26 L823.39 589.93 L817.38 592.51 L811.37 595.12 L805.36 597.82 L799.35 600.57 L793.34 603.31 L787.33 606.00 L781.32 608.64 L775.31 611.29 L769.30 613.87 L763.29 616.31 L757.28 618.55 L751.27 620.68 L745.26 622.72 L739.25 624.69 L733.24 626.58 L727.23 628.41 L721.22 630.17 L715.21 631.87 L709.20 633.51 L703.19 635.06 L697.18 636.53 L691.17 637.96 L685.16 639.36 L679.15 640.75 L673.14 642.16 L667.13 643.58 L661.12 644.99 L655.11 646.40 L649.10 647.79 L643.09 649.15 L637.08 650.48 L631.07 651.76 L625.06 652.98 L619.05 654.14 L613.04 655.21 L607.03 656.18 L601.02 657.14 L595.01 658.11 L589.00 659.09 L582.99 660.06 L576.98 661.04 L570.97 662.01 L564.96 662.98 L558.95 663.93 L552.94 664.89 L546.93 665.83 L540.92 666.76 L534.91 667.67 L528.90 668.57 L522.89 669.46 L516.88 670.34 L510.87 671.23 L504.86 672.12 L498.85 673.01 L492.84 673.89 L486.83 674.76 L480.82 675.61 L474.81 676.44 L468.80 677.23 L462.79 678.00 L456.78 678.72 L450.77 679.40 L444.76 680.03 L438.75 680.61 L432.74 681.14 L426.73 681.63 L420.72 682.10 L414.71 682.54 L408.70 682.97 L402.69 683.39 L396.68 683.81 L390.67 684.25 L384.66 684.70 L378.65 685.18 L372.64 685.69 L366.63 686.25 L360.62 686.92 L354.61 687.38 L348.60 687.82 L342.59 688.26 L336.58 688.67 L330.57 689.05 L324.56 689.40 L318.54 689.71 L312.53 689.98 L306.52 690.19 L300.51 690.35 L294.50 690.44 L288.49 690.46 L282.48 690.46 L282.48 686.22 L274.00 686.32 L265.51 686.41 L257.02 686.50 L248.54 686.59 L240.05 686.68 L231.56 686.77 L223.08 686.86 L214.59 686.95 L206.10 687.04 L197.61 687.12 L189.13 687.21 L180.64 687.30 L172.15 687.39 L163.67 687.47 L155.18 687.55 L146.69 687.64 L138.21 687.71 L129.72 687.79 L121.23 687.85 Z" fill="#d0dce8"/>
<path d="M133.15 518.6V691.4 M211.05 518.6V691.4 M288.95 518.6V691.4 M366.85 518.6V691.4 M444.75 518.6V691.4 M522.65 518.6V691.4 M600.55 518.6V691.4 M678.45 518.6V691.4 M756.35 518.6V691.4 M834.25 518.6V691.4 M912.15 518.6V691.4 M56 670.40H958.3 M56 648.60H958.3 M56 626.80H958.3 M56 605.00H958.3 M56 583.20H958.3 M56 561.40H958.3 M56 539.60H958.3" stroke="#cbcbcb" stroke-opacity="0.76" stroke-width="1.1" fill="none"/>
<path d="M56 518.3H958.3" stroke="#999" stroke-width="1"/>
<path d="M56 672.3H301.26" stroke="#777" stroke-width="0.9" fill="none"/>
<path d="M56 674.6H301.26" stroke="#8a8a8a" stroke-width="0.9" fill="none"/>
<path d="M56 672.3H76.5" stroke="#000" stroke-width="1.2" fill="none"/>
<path d="M278 672.5H301" stroke="#000" stroke-width="1.2" fill="none"/>
<path d="M55.25 634.29 L61.94 633.25 L68.63 632.19 L75.32 631.11 L82.02 630.02 L88.71 628.91 L95.40 627.79 L102.09 626.65 L108.78 625.50 L115.47 624.34 L122.16 623.16 L128.86 621.97 L135.55 620.76 L142.24 619.54 L148.93 618.31 L155.62 617.07 L162.31 615.82 L169.00 614.56 L175.70 613.28 L182.39 612.00 L189.08 610.70 L195.77 609.40 L202.46 608.08 L209.15 606.76 L215.84 605.43 L222.54 604.09 L229.23 602.74 L235.92 601.39 L242.61 600.02 L249.30 598.65 L255.99 597.28 L262.68 595.90 L269.38 594.51 L276.07 593.12 L282.76 591.72 L289.45 590.32 L296.14 588.91 L302.83 587.50 L309.52 586.04 L316.22 584.53" stroke="#0a4a8a" stroke-width="0.9" stroke-opacity="0.85" fill="none"/>
<path d="M55.25 642.55 L65.69 640.55 L76.14 638.57 L86.58 636.60 L97.02 634.64 L107.46 632.69 L117.91 630.76 L128.35 628.83 L138.79 626.91 L149.23 625.01 L159.68 623.11 L170.12 621.23 L180.56 619.35 L191.00 617.48 L201.45 615.63 L211.89 613.78 L222.33 611.95 L232.77 610.12 L243.22 608.31 L253.66 606.50 L264.10 604.70 L274.54 602.91 L284.99 601.13 L295.43 599.36 L305.87 597.60 L316.31 595.85 L326.76 594.11 L337.20 592.39 L347.64 590.68 L358.09 588.98 L368.53 587.29 L378.97 585.61 L389.41 583.94 L399.86 582.29 L410.30 580.65 L420.74 579.01 L431.18 577.39 L441.63 575.77 L452.07 574.17 L462.51 572.58" stroke="#0a4a8a" stroke-width="0.9" stroke-opacity="0.85" fill="none"/>
<path d="M55.25 643.00 L61.56 641.98 L67.87 640.95 L74.17 639.91 L80.48 638.87 L86.79 637.83 L93.10 636.78 L99.41 635.73 L105.71 634.68 L112.02 633.62 L118.33 632.56 L124.64 631.50 L130.94 630.44 L137.25 629.37 L143.56 628.30 L149.87 627.23 L156.18 626.16 L162.48 625.09 L168.79 624.01 L175.10 622.94 L181.41 621.86 L187.72 620.79 L194.02 619.71 L200.33 618.64 L206.64 617.56 L212.95 616.49 L219.26 615.41 L225.56 614.34 L231.87 613.27 L238.18 612.20 L244.49 611.13 L250.79 610.07 L257.10 609.01 L263.41 607.95 L269.72 606.89 L276.03 605.83 L282.33 604.78 L288.64 603.73 L294.95 602.69 L301.26 601.65" stroke="#0a4a8a" stroke-width="0.9" stroke-opacity="0.85" fill="none"/>
<path d="M55.25 650.50 L61.56 649.46 L67.87 648.42 L74.17 647.37 L80.48 646.33 L86.79 645.29 L93.10 644.25 L99.41 643.20 L105.71 642.16 L112.02 641.12 L118.33 640.08 L124.64 639.04 L130.94 638.00 L137.25 636.96 L143.56 635.92 L149.87 634.89 L156.18 633.85 L162.48 632.82 L168.79 631.79 L175.10 630.76 L181.41 629.74 L187.72 628.71 L194.02 627.69 L200.33 626.67 L206.64 625.66 L212.95 624.64 L219.26 623.63 L225.56 622.63 L231.87 621.62 L238.18 620.62 L244.49 619.63 L250.79 618.64 L257.10 617.65 L263.41 616.66 L269.72 615.68 L276.03 614.71 L282.33 613.74 L288.64 612.77 L294.95 611.81 L301.26 610.86" stroke="#0a4a8a" stroke-width="0.9" stroke-opacity="0.85" fill="none"/>
<path d="M55.25 688.29 L56.94 688.28 L58.63 688.27 L60.33 688.26 L62.02 688.25 L63.71 688.24 L65.40 688.23 L67.09 688.22 L68.78 688.21 L70.48 688.20 L72.17 688.19 L73.86 688.18 L75.55 688.17 L77.24 688.16 L78.94 688.15 L80.63 688.14 L82.32 688.13 L84.01 688.12 L85.70 688.11 L87.39 688.10 L89.09 688.09 L90.78 688.07 L92.47 688.06 L94.16 688.05 L95.85 688.04 L97.55 688.03 L99.24 688.02 L100.93 688.00 L102.62 687.99 L104.31 687.98 L106.00 687.97 L107.70 687.96 L109.39 687.94 L111.08 687.93 L112.77 687.92 L114.46 687.91 L116.16 687.89 L117.85 687.88 L119.54 687.87 L121.23 687.85" stroke="#0a4a8a" stroke-width="0.9" stroke-opacity="0.85" fill="none"/>
<path d="M462.51 572.58H617.69" stroke="#0a4a8a" stroke-width="0.9" stroke-opacity="0.85" fill="none"/>
<path d="M317.62 584.24 L325.24 582.70 L332.87 581.18 L340.50 579.67 L348.12 578.17 L355.75 576.70 L363.37 575.24 L371.00 573.82 L378.63 572.41 L386.25 571.04 L393.88 569.70 L401.50 568.39 L409.13 567.12 L416.76 565.89 L424.38 564.69 L432.01 563.55 L439.63 562.44 L447.26 561.39 L454.89 560.38 L462.51 559.43 L617.69 559.54" stroke="#0a4a8a" stroke-width="2.2" fill="none" stroke-linecap="round" stroke-linejoin="round"/>
<path d="M302.82 601.39 L308.15 600.52 L313.49 599.64 L318.83 598.77 L324.16 597.91 L329.50 597.05 L334.84 596.19 L340.17 595.33 L345.51 594.48 L350.85 593.63 L356.18 592.79 L361.52 591.95 L366.86 591.12 L372.19 590.29 L377.53 589.47 L382.87 588.65 L388.21 587.84 L393.54 587.03 L398.88 586.22 L404.22 585.43 L409.55 584.64 L414.89 583.85 L420.23 583.07 L425.56 582.30 L430.90 581.53 L436.24 580.77 L441.57 580.02 L446.91 579.27 L452.25 578.53 L457.58 577.79 L462.92 577.07 L468.26 576.35 L473.59 575.64 L478.93 574.93 L484.27 574.24 L489.60 573.55 L494.94 572.87 L500.28 572.20 L505.61 571.53 L510.95 570.88 L516.29 570.23 L521.63 569.59 L526.96 568.96 L532.30 568.34 L537.64 567.73 L542.97 567.13 L548.31 566.54 L553.65 565.95 L558.98 565.38 L564.32 564.82 L569.66 564.26 L574.99 563.72 L580.33 563.19 L585.67 562.67 L591.00 562.15 L596.34 561.65 L601.68 561.16 L607.01 560.68 L612.35 560.22 L617.69 559.76 L877.48 559.54" stroke="#0a4a8a" stroke-width="3.2" fill="none" stroke-linecap="round" stroke-linejoin="round"/>
<path d="M302.35 610.69 L307.69 609.89 L313.04 609.08 L318.38 608.29 L323.73 607.49 L329.07 606.70 L334.42 605.92 L339.76 605.14 L345.11 604.36 L350.45 603.59 L355.80 602.82 L361.14 602.06 L366.49 601.30 L371.83 600.55 L377.18 599.80 L382.52 599.06 L387.86 598.32 L393.21 597.58 L398.55 596.86 L403.90 596.13 L409.24 595.42 L414.59 594.71 L419.93 594.00 L425.28 593.30 L430.62 592.61 L435.97 591.92 L441.31 591.24 L446.66 590.56 L452.00 589.89 L457.35 589.23 L462.69 588.57 L468.04 587.92 L473.38 587.27 L478.72 586.64 L484.07 586.01 L489.41 585.38 L494.76 584.77 L500.10 584.16 L505.45 583.55 L510.79 582.96 L516.14 582.37 L521.48 581.79 L526.83 581.21 L532.17 580.65 L537.52 580.09 L542.86 579.54 L548.21 579.00 L553.55 578.46 L558.90 577.93 L564.24 577.42 L569.59 576.91 L574.93 576.40 L580.27 575.91 L585.62 575.42 L590.96 574.95 L596.31 574.48 L601.65 574.02 L607.00 573.57 L612.34 573.13 L617.69 572.69 L877.48 572.58" stroke="#0a4a8a" stroke-width="2.3" fill="none" stroke-linecap="round" stroke-linejoin="round"/>
<path d="M121.23 687.85 L129.72 687.79 L138.21 687.71 L146.69 687.64 L155.18 687.55 L163.67 687.47 L172.15 687.39 L180.64 687.30 L189.13 687.21 L197.61 687.12 L206.10 687.04 L214.59 686.95 L223.08 686.86 L231.56 686.77 L240.05 686.68 L248.54 686.59 L257.02 686.50 L265.51 686.41 L274.00 686.32 L282.48 686.22" stroke="#0a4a8a" stroke-width="2.4" fill="none" stroke-linecap="round"/>
<path d="M121.23 690.90 L129.72 690.89 L138.21 690.87 L146.69 690.83 L155.18 690.79 L163.67 690.73 L172.15 690.66 L180.64 690.58 L189.13 690.50 L197.61 690.41 L206.10 690.31 L214.59 690.19 L223.08 690.02 L231.56 689.79 L240.05 689.50 L248.54 689.16 L257.02 688.79 L265.51 688.39 L274.00 687.96 L282.48 687.53" stroke="#000" stroke-width="2.6" fill="none" stroke-linecap="round"/>
<path d="M301.26 673.51 L306.62 673.38 L311.98 673.24 L317.35 673.10 L322.71 672.96 L328.07 672.82 L333.44 672.67 L338.80 672.53 L344.16 672.38 L349.53 672.22 L354.89 672.07 L360.25 671.91 L365.62 671.76 L370.98 671.60 L376.34 671.44 L381.71 671.28 L387.07 671.12 L392.43 670.96 L397.80 670.80 L403.16 670.64 L408.52 670.47 L413.89 670.30 L419.25 670.12 L424.61 669.93 L429.98 669.74 L435.34 669.54 L440.70 669.33 L446.07 669.11 L451.43 668.88 L456.79 668.63 L462.15 668.36 L467.52 668.09 L472.88 667.80 L478.24 667.50 L483.61 667.19 L488.97 666.87 L494.33 666.55 L499.70 666.23 L505.06 665.90 L510.42 665.57 L515.79 665.24 L521.15 664.91 L526.51 664.58 L531.88 664.23 L537.24 663.87 L542.60 663.49 L547.97 663.11 L553.33 662.72 L558.69 662.33 L564.06 661.94 L569.42 661.56 L574.78 661.18 L580.15 660.82 L585.51 660.47 L590.87 660.14 L596.24 659.83 L601.60 659.55 L606.96 659.30 L612.32 659.06 L617.69 658.84" stroke="#000" stroke-width="3.2" fill="none" stroke-linecap="round"/>
<path d="M301.26 674.92 L307.08 674.89 L312.90 674.83 L318.72 674.77 L324.54 674.69 L330.36 674.61 L336.18 674.51 L342.00 674.40 L347.82 674.29 L353.64 674.18 L359.46 674.05 L365.28 673.93 L371.10 673.79 L376.92 673.64 L382.74 673.48 L388.57 673.29 L394.39 673.09 L400.21 672.88 L406.03 672.66 L411.85 672.42 L417.67 672.17 L423.49 671.91 L429.31 671.65 L435.13 671.37 L440.95 671.09 L446.77 670.80 L452.59 670.49 L458.41 670.15 L464.23 669.78 L470.05 669.39 L475.87 668.98 L481.69 668.56 L487.51 668.13 L493.33 667.69 L499.15 667.24 L504.97 666.80 L510.80 666.35 L516.62 665.92 L522.44 665.49 L528.26 665.06 L534.08 664.62 L539.90 664.19 L545.72 663.76 L551.54 663.33 L557.36 662.89 L563.18 662.46 L569.00 662.02 L574.82 661.59 L580.64 661.17 L586.46 660.76 L592.28 660.36 L598.10 659.98 L603.92 659.62 L609.74 659.31 L615.56 658.98 L621.38 658.58 L627.20 658.12 L633.02 657.61 L638.85 657.07 L644.67 656.49 L650.49 655.89 L656.31 655.28 L662.13 654.67 L667.95 654.05 L673.77 653.45 L679.59 652.86 L685.41 652.30 L691.23 651.73 L697.05 651.18 L702.87 650.62 L708.69 650.06 L714.51 649.50 L720.33 648.93 L726.15 648.35 L731.97 647.76 L737.79 647.15 L743.61 646.51 L749.43 645.86 L755.25 645.18 L761.08 644.45 L766.90 643.66 L772.72 642.82 L778.54 641.97 L784.36 641.14 L790.18 640.34 L796.00 639.57 L801.82 638.82 L807.64 638.07 L813.46 637.31 L819.28 636.52 L825.10 635.70 L830.92 634.82 L836.74 633.88 L842.56 632.87 L848.38 631.80 L854.20 630.68 L860.02 629.50 L865.84 628.28 L871.66 627.01 L877.48 625.71" stroke="#000" stroke-width="3.3" fill="none" stroke-linecap="round"/>
<circle cx="617.69" cy="559.50" r="6" fill="#ff0000"/>
<circle cx="617.69" cy="572.50" r="6" fill="#ff0000"/>
<circle cx="617.69" cy="659.10" r="6" fill="#ff0000"/>
<path d="M55.25 518V693" stroke="#000" stroke-width="1.7" fill="none"/>
<path d="M959.20 518V693" stroke="#000" stroke-width="1.7" fill="none"/>
<path d="M48 692.1H966.3" stroke="#000" stroke-width="1.4" fill="none"/>
<path d="M48 670.40H55 M959.5 670.40H966.3 M48 648.60H55 M959.5 648.60H966.3 M48 626.80H55 M959.5 626.80H966.3 M48 605.00H55 M959.5 605.00H966.3 M48 583.20H55 M959.5 583.20H966.3 M48 561.40H55 M959.5 561.40H966.3 M48 539.60H55 M959.5 539.60H966.3" stroke="#000" stroke-width="1.6" fill="none"/>
<rect x="792.5" y="-2" width="166.70" height="30.6" fill="#fff" stroke="#555" stroke-width="1"/>
<path d="M792.5 -2V28.6" stroke="#333" stroke-width="1"/>
<path d="M792 0.4H958.3" stroke="#999" stroke-width="1"/>
<path d="M959.20 0V30" stroke="#000" stroke-width="1.7" fill="none"/>
<g font-family="'Liberation Sans', sans-serif" font-size="16px">
<text x="34.80" y="15.00" text-anchor="middle" fill="#000" textLength="12.14" lengthAdjust="spacingAndGlyphs">H</text>
<text x="34.30" y="35.00" text-anchor="middle" fill="#000" textLength="23.35" lengthAdjust="spacingAndGlyphs">[m]</text>
<text x="42.20" y="395.40" text-anchor="end" fill="#000" textLength="8.91" lengthAdjust="spacingAndGlyphs">0</text>
<text x="42.20" y="365.40" text-anchor="end" fill="#000" textLength="8.91" lengthAdjust="spacingAndGlyphs">5</text>
<text x="42.20" y="335.40" text-anchor="end" fill="#000" textLength="17.81" lengthAdjust="spacingAndGlyphs">10</text>
<text x="42.20" y="305.40" text-anchor="end" fill="#000" textLength="17.81" lengthAdjust="spacingAndGlyphs">15</text>
<text x="42.20" y="275.40" text-anchor="end" fill="#000" textLength="17.81" lengthAdjust="spacingAndGlyphs">20</text>
<text x="42.20" y="245.40" text-anchor="end" fill="#000" textLength="17.81" lengthAdjust="spacingAndGlyphs">25</text>
<text x="42.20" y="215.40" text-anchor="end" fill="#000" textLength="17.81" lengthAdjust="spacingAndGlyphs">30</text>
<text x="42.20" y="185.40" text-anchor="end" fill="#000" textLength="17.81" lengthAdjust="spacingAndGlyphs">35</text>
<text x="42.20" y="155.40" text-anchor="end" fill="#000" textLength="17.81" lengthAdjust="spacingAndGlyphs">40</text>
<text x="42.20" y="125.40" text-anchor="end" fill="#000" textLength="17.81" lengthAdjust="spacingAndGlyphs">45</text>
<text x="42.20" y="95.40" text-anchor="end" fill="#000" textLength="17.81" lengthAdjust="spacingAndGlyphs">50</text>
<text x="42.20" y="65.40" text-anchor="end" fill="#000" textLength="17.81" lengthAdjust="spacingAndGlyphs">55</text>
<text x="54.65" y="412.60" text-anchor="middle" fill="#000" textLength="8.91" lengthAdjust="spacingAndGlyphs">0</text>
<text x="132.55" y="412.60" text-anchor="middle" fill="#000" textLength="8.91" lengthAdjust="spacingAndGlyphs">1</text>
<text x="210.45" y="412.60" text-anchor="middle" fill="#000" textLength="8.91" lengthAdjust="spacingAndGlyphs">2</text>
<text x="288.35" y="412.60" text-anchor="middle" fill="#000" textLength="8.91" lengthAdjust="spacingAndGlyphs">3</text>
<text x="366.25" y="412.60" text-anchor="middle" fill="#000" textLength="8.91" lengthAdjust="spacingAndGlyphs">4</text>
<text x="444.15" y="412.60" text-anchor="middle" fill="#000" textLength="8.91" lengthAdjust="spacingAndGlyphs">5</text>
<text x="522.05" y="412.60" text-anchor="middle" fill="#000" textLength="8.91" lengthAdjust="spacingAndGlyphs">6</text>
<text x="599.95" y="412.60" text-anchor="middle" fill="#000" textLength="8.91" lengthAdjust="spacingAndGlyphs">7</text>
<text x="677.85" y="412.60" text-anchor="middle" fill="#000" textLength="8.91" lengthAdjust="spacingAndGlyphs">8</text>
<text x="755.75" y="412.60" text-anchor="middle" fill="#000" textLength="8.91" lengthAdjust="spacingAndGlyphs">9</text>
<text x="833.65" y="412.60" text-anchor="middle" fill="#000" textLength="17.81" lengthAdjust="spacingAndGlyphs">10</text>
<text x="888.40" y="412.60" text-anchor="start" fill="#000" textLength="61.52" lengthAdjust="spacingAndGlyphs">Q [m³/h]</text>
<text x="969.70" y="14.60" text-anchor="start" fill="#000" textLength="23.04" lengthAdjust="spacingAndGlyphs">eta</text>
<text x="968.70" y="35.00" text-anchor="start" fill="#000" textLength="24.54" lengthAdjust="spacingAndGlyphs">[%]</text>
<text x="971.50" y="395.40" text-anchor="start" fill="#000" textLength="8.91" lengthAdjust="spacingAndGlyphs">0</text>
<text x="971.50" y="365.40" text-anchor="start" fill="#000" textLength="17.81" lengthAdjust="spacingAndGlyphs">10</text>
<text x="971.50" y="335.40" text-anchor="start" fill="#000" textLength="17.81" lengthAdjust="spacingAndGlyphs">20</text>
<text x="971.50" y="305.40" text-anchor="start" fill="#000" textLength="17.81" lengthAdjust="spacingAndGlyphs">30</text>
<text x="971.50" y="275.40" text-anchor="start" fill="#000" textLength="17.81" lengthAdjust="spacingAndGlyphs">40</text>
<text x="971.50" y="245.40" text-anchor="start" fill="#000" textLength="17.81" lengthAdjust="spacingAndGlyphs">50</text>
<text x="971.50" y="215.40" text-anchor="start" fill="#000" textLength="17.81" lengthAdjust="spacingAndGlyphs">60</text>
<text x="971.50" y="185.40" text-anchor="start" fill="#000" textLength="17.81" lengthAdjust="spacingAndGlyphs">70</text>
<text x="971.50" y="155.40" text-anchor="start" fill="#000" textLength="17.81" lengthAdjust="spacingAndGlyphs">80</text>
<text x="971.50" y="125.40" text-anchor="start" fill="#000" textLength="17.81" lengthAdjust="spacingAndGlyphs">90</text>
<text x="971.50" y="95.40" text-anchor="start" fill="#000" textLength="26.72" lengthAdjust="spacingAndGlyphs">100</text>
<text x="798.40" y="18.80" text-anchor="start" fill="#000" textLength="144.40" lengthAdjust="spacingAndGlyphs">CRNE 5-4, 3*460 V</text>
<text x="92.00" y="84.80" text-anchor="start" fill="#000" textLength="45.41" lengthAdjust="spacingAndGlyphs">100 %</text>
<text x="89.00" y="118.80" text-anchor="start" fill="#000" textLength="37.05" lengthAdjust="spacingAndGlyphs">94 %</text>
<text x="66.00" y="365.60" text-anchor="start" fill="#000" textLength="36.50" lengthAdjust="spacingAndGlyphs">25 %</text>
<text x="58.20" y="438.80" text-anchor="start" fill="#000" textLength="104.26" lengthAdjust="spacingAndGlyphs">Q = 7.22 m³/h</text>
<text x="58.20" y="460.47" text-anchor="start" fill="#000" textLength="152.19" lengthAdjust="spacingAndGlyphs">n = 95 % / 3773 rpm</text>
<text x="58.20" y="482.14" text-anchor="start" fill="#000" textLength="330.13" lengthAdjust="spacingAndGlyphs">Liquid temperature during operation = 20 °C</text>
<text x="58.20" y="503.81" text-anchor="start" fill="#000" textLength="142.07" lengthAdjust="spacingAndGlyphs">Eta pump = 62.6 %</text>
<text x="443.00" y="438.80" text-anchor="start" fill="#000" textLength="92.06" lengthAdjust="spacingAndGlyphs">H = 35.03 m</text>
<text x="443.00" y="460.47" text-anchor="start" fill="#000" textLength="170.24" lengthAdjust="spacingAndGlyphs">Pumped liquid = Water</text>
<text x="443.00" y="482.14" text-anchor="start" fill="#000" textLength="166.20" lengthAdjust="spacingAndGlyphs">Density = 998.2 kg/m³</text>
<text x="443.00" y="503.81" text-anchor="start" fill="#000" textLength="311.38" lengthAdjust="spacingAndGlyphs">Eta pump+motor+freq.converter = 56.4 %</text>
<text x="27.00" y="533.00" text-anchor="middle" fill="#000" textLength="11.21" lengthAdjust="spacingAndGlyphs">P</text>
<text x="27.20" y="552.40" text-anchor="middle" fill="#000" textLength="25.22" lengthAdjust="spacingAndGlyphs">[W]</text>
<text x="42.00" y="697.10" text-anchor="end" fill="#000" textLength="8.91" lengthAdjust="spacingAndGlyphs">0</text>
<text x="42.00" y="675.30" text-anchor="end" fill="#000" textLength="26.72" lengthAdjust="spacingAndGlyphs">200</text>
<text x="42.00" y="653.50" text-anchor="end" fill="#000" textLength="26.72" lengthAdjust="spacingAndGlyphs">400</text>
<text x="42.00" y="631.70" text-anchor="end" fill="#000" textLength="26.72" lengthAdjust="spacingAndGlyphs">600</text>
<text x="42.00" y="609.90" text-anchor="end" fill="#000" textLength="26.72" lengthAdjust="spacingAndGlyphs">800</text>
<text x="42.00" y="588.10" text-anchor="end" fill="#000" textLength="35.62" lengthAdjust="spacingAndGlyphs">1000</text>
<text x="990.50" y="533.00" text-anchor="middle" fill="#000" textLength="46.69" lengthAdjust="spacingAndGlyphs">NPSH</text>
<text x="990.50" y="552.00" text-anchor="middle" fill="#000" textLength="23.35" lengthAdjust="spacingAndGlyphs">[m]</text>
<text x="971.50" y="697.10" text-anchor="start" fill="#000" textLength="8.91" lengthAdjust="spacingAndGlyphs">0</text>
<text x="971.50" y="675.30" text-anchor="start" fill="#000" textLength="8.91" lengthAdjust="spacingAndGlyphs">2</text>
<text x="971.50" y="653.50" text-anchor="start" fill="#000" textLength="8.91" lengthAdjust="spacingAndGlyphs">4</text>
<text x="971.50" y="631.70" text-anchor="start" fill="#000" textLength="8.91" lengthAdjust="spacingAndGlyphs">6</text>
<text x="971.50" y="609.90" text-anchor="start" fill="#000" textLength="8.91" lengthAdjust="spacingAndGlyphs">8</text>
<text x="971.50" y="588.10" text-anchor="start" fill="#000" textLength="17.81" lengthAdjust="spacingAndGlyphs">10</text>
<text x="669.00" y="552.80" text-anchor="start" fill="#1f5a96" textLength="195.92" lengthAdjust="spacingAndGlyphs">P1 (motor+freq.converter)</text>
<text x="852.00" y="588.70" text-anchor="start" fill="#1f5a96" textLength="20.56" lengthAdjust="spacingAndGlyphs">P2</text>
<text x="58.20" y="718.90" text-anchor="start" fill="#000" textLength="273.03" lengthAdjust="spacingAndGlyphs">P1 (motor+freq.converter) = 1220 W</text>
<text x="58.20" y="740.15" text-anchor="start" fill="#000" textLength="97.27" lengthAdjust="spacingAndGlyphs">P2 = 1099 W</text>
<text x="58.20" y="761.40" text-anchor="start" fill="#000" textLength="116.46" lengthAdjust="spacingAndGlyphs">NPSH = 3.07 m</text>
</g>
</svg>
</body></html>
